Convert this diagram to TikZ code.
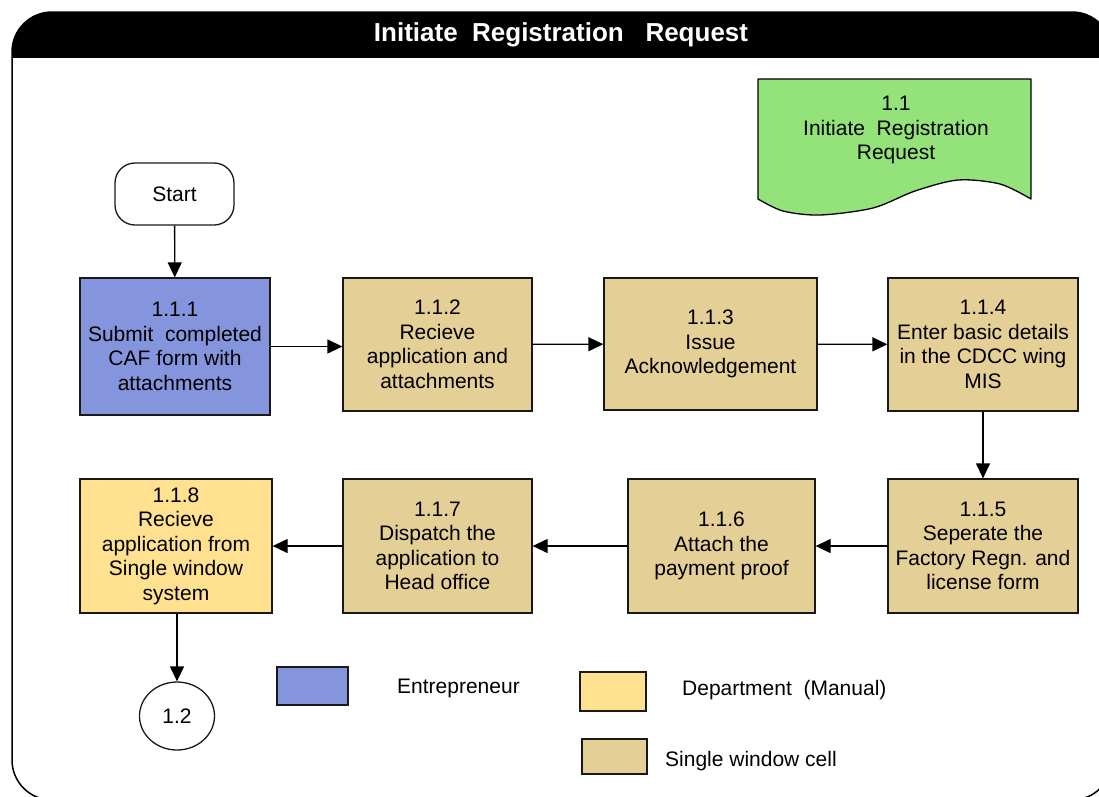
\documentclass[tikz,border=0pt]{standalone}
\usepackage{fontspec}
\setmainfont{Liberation Sans}
\usetikzlibrary{arrows.meta,shapes.geometric}
\definecolor{entblue}{RGB}{133,149,221}
\definecolor{swtan}{RGB}{228,208,150}
\definecolor{deptyellow}{RGB}{255,225,143}
\definecolor{docgreen}{RGB}{147,227,122}
\newcommand\boxfont{\fontsize{21}{24.5}\selectfont}
\tikzset{
  proc/.style={draw=black!90, line width=1.3pt, align=center, font=\boxfont, inner sep=2pt},
  legendbox/.style={draw=black!90, line width=1.3pt, inner sep=0pt},
  legendtext/.style={anchor=west, inner sep=0pt, font=\boxfont},
  flow/.style={line width=1.3pt, -{Triangle[length=15pt,width=14pt]}},
  terminal/.style={draw=black!90, line width=1.3pt, fill=white, font=\boxfont, rounded corners=20pt},
}
\begin{document}
\begin{tikzpicture}[x=1pt,y=-1pt]
\useasboundingbox (0,0) rectangle (1099,796);
\clip (0,0) rectangle (1099,796);

% frame with black title band
\begin{scope}
  \clip[rounded corners=40pt] (12,12) rectangle (1112,800);
  \fill[black] (0,0) rectangle (1120,58);
\end{scope}
\draw[line width=1.5pt, rounded corners=40pt] (12,12) rectangle (1112,800);
\node[text=white, font=\fontsize{26}{30}\selectfont\bfseries] (title) at (561,35)
  {Initiate\ \ Registration\ \ \ Request};

% document symbol for the sub-process
\draw[fill=docgreen, line width=1.3pt, line join=round]
  (758,199) -- (758,79) -- (1031,79) -- (1031,199)
  -- plot[smooth] coordinates {(1031,199) (1000,184) (958,180) (915,191) (873,208) (820,215) (783,211) (758,199)}
  -- cycle;
\node[align=center, font=\boxfont] (doc) at (896,130)
  {1.1\\Initiate\ \ Registration\\Request};

% start terminal
\node[terminal, minimum width=119pt, minimum height=62pt] (start) at (174.5,194) {Start};

% first row
\node[proc, fill=entblue, minimum width=190pt, minimum height=137pt] (n1) at (175,346.5)
  {1.1.1\\Submit\ \ completed\\CAF form with\\attachments};
\node[proc, fill=swtan, minimum width=189pt, minimum height=133pt] (n2) at (437.5,344.5)
  {1.1.2\\Recieve\\application and\\attachments};
\node[proc, fill=swtan, minimum width=213pt, minimum height=132pt] (n3) at (710.5,344)
  {1.1.3\\Issue\\Acknowledgement};
\node[proc, fill=swtan, minimum width=190pt, minimum height=133pt] (n4) at (983,344.5)
  {1.1.4\\Enter basic details\\in the CDCC wing\\MIS};

% second row
\node[proc, fill=swtan, minimum width=190pt, minimum height=134pt] (n5) at (983,546)
  {1.1.5\\Seperate the\\Factory Regn. and\\license form};
\node[proc, fill=swtan, minimum width=187pt, minimum height=134pt] (n6) at (721.5,546)
  {1.1.6\\Attach the\\payment proof};
\node[proc, fill=swtan, minimum width=189pt, minimum height=134pt] (n7) at (437.5,546)
  {1.1.7\\Dispatch the\\application to\\Head office};
\node[proc, fill=deptyellow, minimum width=192pt, minimum height=134pt] (n8) at (176,546)
  {1.1.8\\Recieve\\application from\\Single window\\system};

% off-page connector
\node[draw=black!90, line width=1.3pt, ellipse, minimum width=75pt, minimum height=68pt,
      inner sep=0pt, font=\boxfont] (next) at (177,716) {1.2};

% flow
\draw[flow] (start) -- (n1);
\draw[flow] (n1.east) -- (n1.east -| n2.west);
\draw[flow] (n2) -- (n3);
\draw[flow] (n3) -- (n4);
\draw[flow] (n4) -- (n5);
\draw[flow] (n5) -- (n6);
\draw[flow] (n6) -- (n7);
\draw[flow] (n7) -- (n8);
\draw[flow] (n8.south -| next.north) -- (next.north);

% legend
\node[legendbox, fill=entblue, minimum width=71pt, minimum height=38pt] (lg1) at (312.5,686) {};
\node[legendtext] (lt1) at (397,688) {Entrepreneur};
\node[legendbox, fill=deptyellow, minimum width=66pt, minimum height=39pt] (lg2) at (613,691.5) {};
\node[legendtext] (lt2) at (682,690) {Department\ \ (Manual)};
\node[legendbox, fill=swtan, minimum width=65pt, minimum height=35pt] (lg3) at (614.5,756.5) {};
\node[legendtext] (lt3) at (665,761) {Single window cell};
\end{tikzpicture}
\end{document}
